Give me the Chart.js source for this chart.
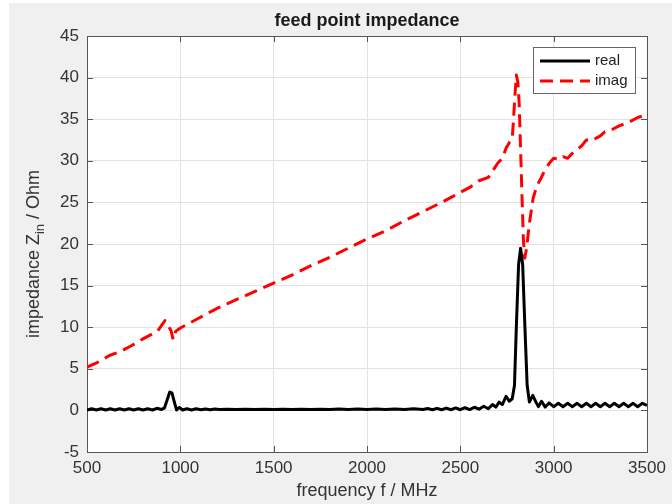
<!DOCTYPE html>
<html>
<head>
<meta charset="utf-8">
<script src="https://cdn.jsdelivr.net/npm/chart.js@4.4.1/dist/chart.umd.min.js"></script>
<style>
  html, body { margin: 0; padding: 0; background: #f0f0f0; }
  #wrap { width: 672px; height: 504px; }
</style>
</head>
<body>
<div id="wrap"><canvas id="chart" width="672" height="504"></canvas></div>
<script>
// feed point impedance
const realFreq = [500, 525, 550, 575, 600, 625, 650, 675, 700, 725, 750, 775, 800, 825, 850, 875, 900, 915, 930, 943, 955, 968, 980, 995, 1012, 1035, 1060, 1085, 1110, 1135, 1160, 1185, 1210, 1250, 1300, 1350, 1400, 1450, 1500, 1550, 1600, 1650, 1700, 1750, 1800, 1850, 1900, 1950, 2000, 2050, 2100, 2150, 2200, 2250, 2300, 2325, 2350, 2375, 2400, 2425, 2450, 2475, 2500, 2525, 2550, 2575, 2600, 2625, 2650, 2672, 2690, 2708, 2725, 2745, 2762, 2778, 2790, 2800, 2812, 2823, 2834, 2846, 2858, 2870, 2888, 2905, 2918, 2935, 2955, 2975, 3000, 3025, 3050, 3075, 3100, 3125, 3150, 3175, 3200, 3225, 3250, 3275, 3300, 3325, 3350, 3375, 3400, 3425, 3450, 3475, 3500];
const realVal = [0.05, 0.2, 0.05, 0.2, 0.05, 0.2, 0.05, 0.2, 0.05, 0.2, 0.05, 0.2, 0.05, 0.2, 0.05, 0.25, 0.1, 0.3, 1.3, 2.2, 2.1, 1.0, 0.05, 0.35, 0.05, 0.2, 0.05, 0.2, 0.08, 0.18, 0.08, 0.18, 0.1, 0.15, 0.1, 0.15, 0.1, 0.15, 0.1, 0.15, 0.1, 0.15, 0.1, 0.15, 0.1, 0.16, 0.1, 0.16, 0.1, 0.17, 0.1, 0.18, 0.1, 0.2, 0.1, 0.22, 0.08, 0.25, 0.08, 0.28, 0.08, 0.3, 0.08, 0.32, 0.1, 0.38, 0.15, 0.5, 0.2, 0.7, 0.4, 1.0, 0.7, 1.7, 1.1, 1.4, 3.0, 10.0, 17.5, 19.5, 17.5, 10.0, 3.0, 1.0, 1.8, 1.0, 0.45, 1.1, 0.4, 0.9, 0.45, 0.85, 0.45, 0.85, 0.45, 0.85, 0.45, 0.85, 0.45, 0.85, 0.45, 0.85, 0.45, 0.85, 0.45, 0.85, 0.45, 0.85, 0.45, 0.85, 0.6];

const imagFreq = [500, 560, 620, 680, 740, 800, 850, 880, 905, 918, 935, 950, 962, 975, 1000, 1050, 1100, 1150, 1200, 1250, 1300, 1400, 1500, 1600, 1700, 1800, 1900, 2000, 2100, 2200, 2300, 2400, 2450, 2500, 2550, 2600, 2650, 2700, 2725, 2745, 2765, 2778, 2785, 2793, 2800, 2808, 2815, 2822, 2830, 2838, 2845, 2855, 2870, 2890, 2910, 2930, 2955, 2980, 3000, 3030, 3050, 3075, 3100, 3150, 3175, 3200, 3250, 3275, 3300, 3350, 3400, 3450, 3480, 3500];
const imagVal = [5.2, 5.8, 6.6, 7.1, 7.8, 8.6, 9.2, 9.6, 10.4, 10.8, 10.2, 9.6, 8.5, 9.5, 9.9, 10.5, 11.1, 11.7, 12.3, 12.8, 13.3, 14.3, 15.3, 16.3, 17.4, 18.4, 19.5, 20.6, 21.6, 22.8, 23.9, 25.0, 25.6, 26.2, 26.8, 27.6, 28.0, 29.7, 30.3, 31.5, 32.3, 32.6, 35.0, 38.0, 40.3, 39.5, 37.0, 32.0, 26.0, 20.5, 18.3, 19.5, 22.5, 25.5, 27.0, 27.8, 29.0, 29.8, 30.3, 30.2, 30.5, 30.3, 30.9, 31.8, 32.5, 32.4, 33.0, 33.5, 33.6, 34.2, 34.6, 35.2, 35.4, 35.8];

const xTicks = [500, 1000, 1500, 2000, 2500, 3000, 3500];
const yTicks = [-5, 0, 5, 10, 15, 20, 25, 30, 35, 40, 45];

const chartTitle = 'feed point impedance';
const xLabel = 'frequency f / MHz';
const yLabelParts = ['impedance Z', 'in', ' / Ohm'];
const seriesNames = ['real', 'imag'];

const FONT = '"Liberation Sans", Arial, sans-serif';
const TEXT = '#333333';

const figurePlugin = {
  id: 'figure',
  beforeDraw(chart) {
    const { ctx, chartArea: a } = chart;
    ctx.save();
    ctx.fillStyle = '#ffffff';
    ctx.fillRect(0, 0, chart.width, chart.height);
    ctx.fillStyle = '#f0f0f0';
    ctx.fillRect(9, 3, chart.width - 9, chart.height - 3);
    ctx.fillStyle = '#ffffff';
    ctx.fillRect(a.left, a.top, a.right - a.left, a.bottom - a.top);
    ctx.restore();
  },
  beforeDatasetsDraw(chart) {
    const { ctx, chartArea: a, scales } = chart;
    ctx.save();
    ctx.strokeStyle = '#555555';
    ctx.lineWidth = 1;
    ctx.beginPath();
    xTicks.forEach((v) => {
      const px = Math.round(scales.x.getPixelForValue(v)) + 0.5;
      ctx.moveTo(px, a.bottom); ctx.lineTo(px, a.bottom - 6);
      ctx.moveTo(px, a.top); ctx.lineTo(px, a.top + 6);
    });
    yTicks.forEach((v) => {
      const py = Math.round(scales.y.getPixelForValue(v)) + 0.5;
      ctx.moveTo(a.left, py); ctx.lineTo(a.left + 6, py);
      ctx.moveTo(a.right, py); ctx.lineTo(a.right - 6, py);
    });
    ctx.stroke();
    ctx.strokeRect(Math.round(a.left) + 0.5, Math.round(a.top) + 0.5, Math.round(a.right - a.left), Math.round(a.bottom - a.top));
    ctx.restore();
  },
  afterDraw(chart) {
    const { ctx, chartArea: a } = chart;
    const cx = (a.left + a.right) / 2;
    ctx.save();
    ctx.fillStyle = '#1a1a1a';
    ctx.textAlign = 'center';
    ctx.textBaseline = 'middle';
    ctx.font = 'bold 18px ' + FONT;
    ctx.fillText(chartTitle, cx, 21);
    ctx.fillStyle = TEXT;
    ctx.font = '18px ' + FONT;
    ctx.fillText(xLabel, cx, 491);

    // y label with subscript, rotated
    ctx.translate(33, (a.top + a.bottom) / 2 + 10);
    ctx.rotate(-Math.PI / 2);
    ctx.textAlign = 'left';
    ctx.textBaseline = 'alphabetic';
    const big = '18px ' + FONT, small = '13px ' + FONT;
    ctx.font = big; const w0 = ctx.measureText(yLabelParts[0]).width;
    ctx.font = small; const w1 = ctx.measureText(yLabelParts[1]).width;
    ctx.font = big; const w2 = ctx.measureText(yLabelParts[2]).width;
    let x = -(w0 + w1 + w2) / 2;
    ctx.font = big; ctx.fillText(yLabelParts[0], x, 6); x += w0;
    ctx.font = small; ctx.fillText(yLabelParts[1], x, 11); x += w1;
    ctx.font = big; ctx.fillText(yLabelParts[2], x, 6);
    ctx.restore();

    // legend box
    const lx = a.right - 114, ly = a.top + 11, lw = 102, lh = 46;
    ctx.save();
    ctx.fillStyle = '#ffffff';
    ctx.fillRect(lx, ly, lw, lh);
    ctx.strokeStyle = '#666666';
    ctx.lineWidth = 1;
    ctx.strokeRect(lx + 0.5, ly + 0.5, lw, lh);
    chart.data.datasets.forEach((ds, i) => {
      const yy = ly + 14 + i * 20;
      ctx.strokeStyle = ds.borderColor;
      ctx.lineWidth = 3;
      ctx.setLineDash(ds.borderDash || []);
      ctx.beginPath();
      ctx.moveTo(lx + 7, yy);
      ctx.lineTo(lx + 57, yy);
      ctx.stroke();
      ctx.setLineDash([]);
      ctx.fillStyle = '#222222';
      ctx.font = '15px ' + FONT;
      ctx.textBaseline = 'middle';
      ctx.textAlign = 'left';
      ctx.fillText(seriesNames[i], lx + 62, yy);
    });
    ctx.restore();
  }
};

new Chart(document.getElementById('chart'), {
  type: 'line',
  data: {
    datasets: [
      {
        label: seriesNames[0],
        data: realFreq.map((f, i) => ({ x: f, y: realVal[i] })),
        borderColor: '#000000',
        borderWidth: 3,
        pointRadius: 0,
        tension: 0,
        borderJoinStyle: 'round'
      },
      {
        label: seriesNames[1],
        data: imagFreq.map((f, i) => ({ x: f, y: imagVal[i] })),
        borderColor: '#ff0000',
        borderWidth: 3,
        borderDash: [13, 7],
        borderJoinStyle: 'round',
        pointRadius: 0,
        tension: 0
      }
    ]
  },
  options: {
    responsive: false,
    animation: false,
    devicePixelRatio: 1,
    layout: { padding: { left: 0, right: 25, top: 36, bottom: 0 } },
    plugins: { legend: { display: false }, title: { display: false }, tooltip: { enabled: false } },
    scales: {
      x: {
        type: 'linear',
        min: 500,
        max: 3500,
        afterBuildTicks: (s) => { s.ticks = xTicks.map((v) => ({ value: v })); },
        afterFit: (s) => { s.height = 52; },
        grid: { color: '#e2e2e2', drawTicks: false },
        border: { display: false },
        ticks: { color: TEXT, font: { family: FONT, size: 17 }, padding: 6, maxRotation: 0, callback: (v) => String(v) }
      },
      y: {
        type: 'linear',
        min: -5,
        max: 45,
        afterBuildTicks: (s) => { s.ticks = yTicks.map((v) => ({ value: v })); },
        afterFit: (s) => { s.width = 87; },
        grid: { color: '#e2e2e2', drawTicks: false },
        border: { display: false },
        ticks: { color: TEXT, font: { family: FONT, size: 17 }, padding: 8, callback: (v) => String(v) }
      }
    }
  },
  plugins: [figurePlugin]
});
</script>
</body>
</html>
